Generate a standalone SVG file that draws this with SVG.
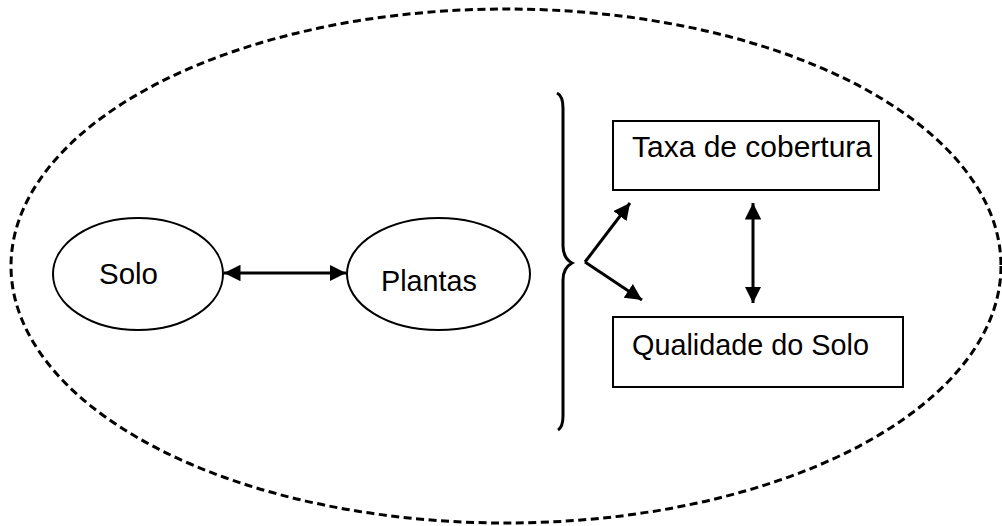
<svg xmlns="http://www.w3.org/2000/svg" width="1002" height="526" viewBox="0 0 1002 526">
<style>
.shape{fill:#fff;stroke:#000;stroke-width:2}
.lbl{font-family:"Liberation Sans",Arial,sans-serif;font-size:30px;fill:#000}
.conn{stroke:#000;stroke-width:3;fill:none}
</style>
<defs>
<marker id="ah" viewBox="0 0 10 10" refX="10" refY="5" markerWidth="5.5" markerHeight="5.5" orient="auto-start-reverse" markerUnits="strokeWidth">
<path d="M0,0 L10,5 L0,10 Z" fill="#000"/>
</marker>
</defs>
<rect width="1002" height="526" fill="#fff"/>
<g id="boundary">
<ellipse cx="506" cy="266" rx="495" ry="257" fill="none" stroke="#000" stroke-width="3" stroke-dasharray="8 4.5"/>
</g>
<g id="solo">
<ellipse class="shape" cx="138" cy="274" rx="85" ry="56"/>
<text class="lbl" x="99" y="284" textLength="59" lengthAdjust="spacingAndGlyphs">Solo</text>
</g>
<g id="plantas">
<ellipse class="shape" cx="438.5" cy="274" rx="91.5" ry="56"/>
<text class="lbl" x="381" y="291" textLength="96" lengthAdjust="spacingAndGlyphs">Plantas</text>
</g>
<g id="taxa">
<rect class="shape" x="613" y="121" width="266" height="69"/>
<text class="lbl" x="632" y="157" textLength="240" lengthAdjust="spacingAndGlyphs">Taxa de cobertura</text>
</g>
<g id="qualidade">
<rect class="shape" x="613" y="317" width="290" height="70"/>
<text class="lbl" x="632" y="355" textLength="237" lengthAdjust="spacingAndGlyphs">Qualidade do Solo</text>
</g>
<g id="brace">
<path d="M557,93 Q563,96 563,108 L563,246 Q563,258 572,263 Q563,268 563,280 L563,416 Q563,427 558,430" fill="none" stroke="#000" stroke-width="3"/>
</g>
<g id="connectors">
<line class="conn" x1="224" y1="273" x2="346" y2="273" marker-start="url(#ah)" marker-end="url(#ah)"/>
<line class="conn" x1="585" y1="262" x2="630" y2="203" marker-end="url(#ah)"/>
<line class="conn" x1="585" y1="262" x2="642" y2="300" marker-end="url(#ah)"/>
<line class="conn" x1="753" y1="203" x2="753" y2="303" marker-start="url(#ah)" marker-end="url(#ah)"/>
</g>
</svg>
